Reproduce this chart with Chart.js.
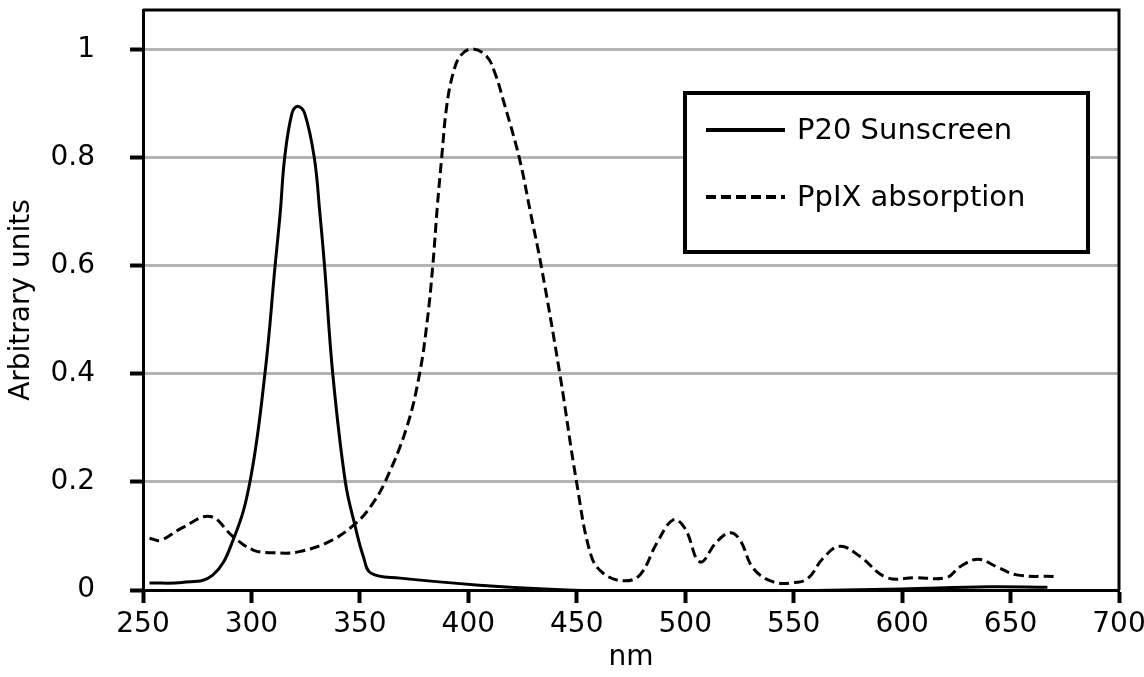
<!DOCTYPE html>
<html>
<head>
<meta charset="utf-8">
<script src="https://cdn.jsdelivr.net/npm/chart.js@4.4.0/dist/chart.umd.min.js"></script>
<style>
  html, body { margin: 0; padding: 0; background: #fff; }
  #wrap { width: 1144px; height: 677px; }
</style>
</head>
<body>
<div id="wrap"><canvas id="spectra" width="1144" height="677"></canvas></div>
<script>
/* ============ DATA ============ */
const seriesNames = ['P20 Sunscreen', 'PpIX absorption'];

const p20Nm = [253, 268, 282, 291.6, 299.3, 306.2, 310.9, 313.3, 315.3, 318.7, 321.3, 324.5, 329, 331.5, 333.7, 337.5, 343.3, 347.7, 351.6, 355.2, 368.5, 405, 440, 480, 520, 560, 600, 640, 667];
const p20Val = [0.013, 0.014, 0.027, 0.093, 0.2, 0.4, 0.6, 0.7, 0.8, 0.883, 0.896, 0.883, 0.8, 0.7, 0.6, 0.4, 0.2, 0.12, 0.062, 0.031, 0.022, 0.009, 0.001, -0.003, -0.003, -0.001, 0.002, 0.006, 0.005];

const ppixNm = [253, 258, 268, 281, 291.5, 300.8, 310, 322, 337, 348.5, 355, 361.6, 371.5, 377.5, 381.1, 383.6, 385.7, 387.7, 390, 393, 396.5, 402, 408.5, 412.3, 416.1, 423.5, 428.6, 433.6, 442.2, 449.9, 456.5, 462.2, 471.4, 479.1, 486.8, 494.5, 499.9, 506.8, 514.5, 520.6, 525.2, 531.4, 540.6, 549.8, 556.7, 563.6, 571.4, 580.6, 592.9, 606, 620.5, 626.7, 635.1, 643.6, 652.8, 670.5];
const ppixVal = [0.096, 0.092, 0.115, 0.136, 0.099, 0.074, 0.069, 0.071, 0.092, 0.125, 0.155, 0.2, 0.3, 0.4, 0.5, 0.6, 0.71, 0.8, 0.895, 0.957, 0.99, 1.002, 0.988, 0.957, 0.907, 0.8, 0.7, 0.6, 0.4, 0.2, 0.065, 0.031, 0.017, 0.028, 0.086, 0.13, 0.114, 0.052, 0.089, 0.106, 0.093, 0.04, 0.015, 0.0135, 0.022, 0.059, 0.081, 0.062, 0.023, 0.023, 0.023, 0.043, 0.057, 0.043, 0.028, 0.025];

const xTicks = [250, 300, 350, 400, 450, 500, 550, 600, 650, 700];
const yTicks = [0, 0.2, 0.4, 0.6, 0.8, 1];

/* ============ CHART DEFAULTS ============ */
Chart.defaults.font.family = "'DejaVu Sans', Verdana, sans-serif";
Chart.defaults.color = '#000';

const FONT = { size: 28 };
const toPoints = (xs, ys) => xs.map((x, i) => ({ x: x, y: ys[i] }));

/* ============ FRAME + BOXED LEGEND ============ */
const frameLegend = {
  id: 'frameLegend',
  afterDraw(chart) {
    const { ctx, chartArea: a } = chart;
    ctx.save();
    // top and right edges of the plot frame
    ctx.strokeStyle = '#000';
    ctx.lineWidth = 3;
    ctx.beginPath();
    ctx.moveTo(a.left, a.top);
    ctx.lineTo(a.right, a.top);
    ctx.lineTo(a.right, a.bottom);
    ctx.stroke();

    // legend box
    ctx.fillStyle = '#fff';
    ctx.fillRect(685, 93, 403, 159);
    ctx.lineWidth = 4;
    ctx.strokeRect(685, 93, 403, 159);

    ctx.font = "29px 'DejaVu Sans', Verdana, sans-serif";
    ctx.textBaseline = 'middle';
    ctx.fillStyle = '#000';
    chart.data.datasets.forEach((ds, i) => {
      const y = 130 + i * 67;
      ctx.setLineDash(ds.borderDash || []);
      ctx.lineWidth = 4;
      ctx.beginPath();
      ctx.moveTo(706, y);
      ctx.lineTo(785, y);
      ctx.stroke();
      ctx.setLineDash([]);
      ctx.fillText(ds.label, 797, y + 1);
    });
    ctx.restore();
  }
};

/* ============ CHART ============ */
new Chart(document.getElementById('spectra'), {
  type: 'line',
  data: {
    datasets: [
      {
        label: seriesNames[0],
        data: toPoints(p20Nm, p20Val),
        borderColor: '#000',
        borderWidth: 3,
        pointRadius: 0,
        fill: false,
        tension: 0.4
      },
      {
        label: seriesNames[1],
        data: toPoints(ppixNm, ppixVal),
        borderColor: '#000',
        borderWidth: 3,
        borderDash: [10, 5],
        pointRadius: 0,
        fill: false,
        tension: 0.4
      }
    ]
  },
  options: {
    responsive: false,
    animation: false,
    layout: { padding: { top: 10, right: 25, left: 0, bottom: 0 } },
    plugins: { legend: { display: false }, tooltip: { enabled: false } },
    scales: {
      x: {
        type: 'linear',
        min: 250, max: 700,
        afterBuildTicks: axis => { axis.ticks = xTicks.map(v => ({ value: v })); },
        afterFit: axis => { axis.height = 87; axis.paddingRight = 0; axis.paddingLeft = 0; },
        grid: { drawOnChartArea: false, drawTicks: true, tickLength: 13, tickColor: '#000', tickWidth: 4 },
        border: { color: '#000', width: 3 },
        ticks: { font: FONT, color: '#000', padding: 5, maxRotation: 0 },
        title: { display: true, text: 'nm', font: FONT, color: '#000', padding: { top: 0, bottom: 2 } }
      },
      y: {
        min: 0, max: 1.074,
        afterBuildTicks: axis => { axis.ticks = yTicks.map(v => ({ value: v })); },
        afterFit: axis => { axis.width = 143; axis.paddingTop = 0; axis.paddingBottom = 0; },
        grid: {
          color: ctx => ctx.tick && ctx.tick.value === 0 ? 'rgba(0,0,0,0)' : '#b3b3b3',
          lineWidth: 3,
          drawTicks: true, tickLength: 13, tickColor: '#000', tickWidth: 4
        },
        border: { color: '#000', width: 3 },
        ticks: { font: FONT, color: '#000', padding: 35, callback: v => String(+v.toFixed(1)) },
        title: { display: true, text: 'Arbitrary units', font: FONT, color: '#000', padding: { top: 5, bottom: 0 } }
      }
    }
  },
  plugins: [frameLegend]
});
</script>
</body>
</html>
